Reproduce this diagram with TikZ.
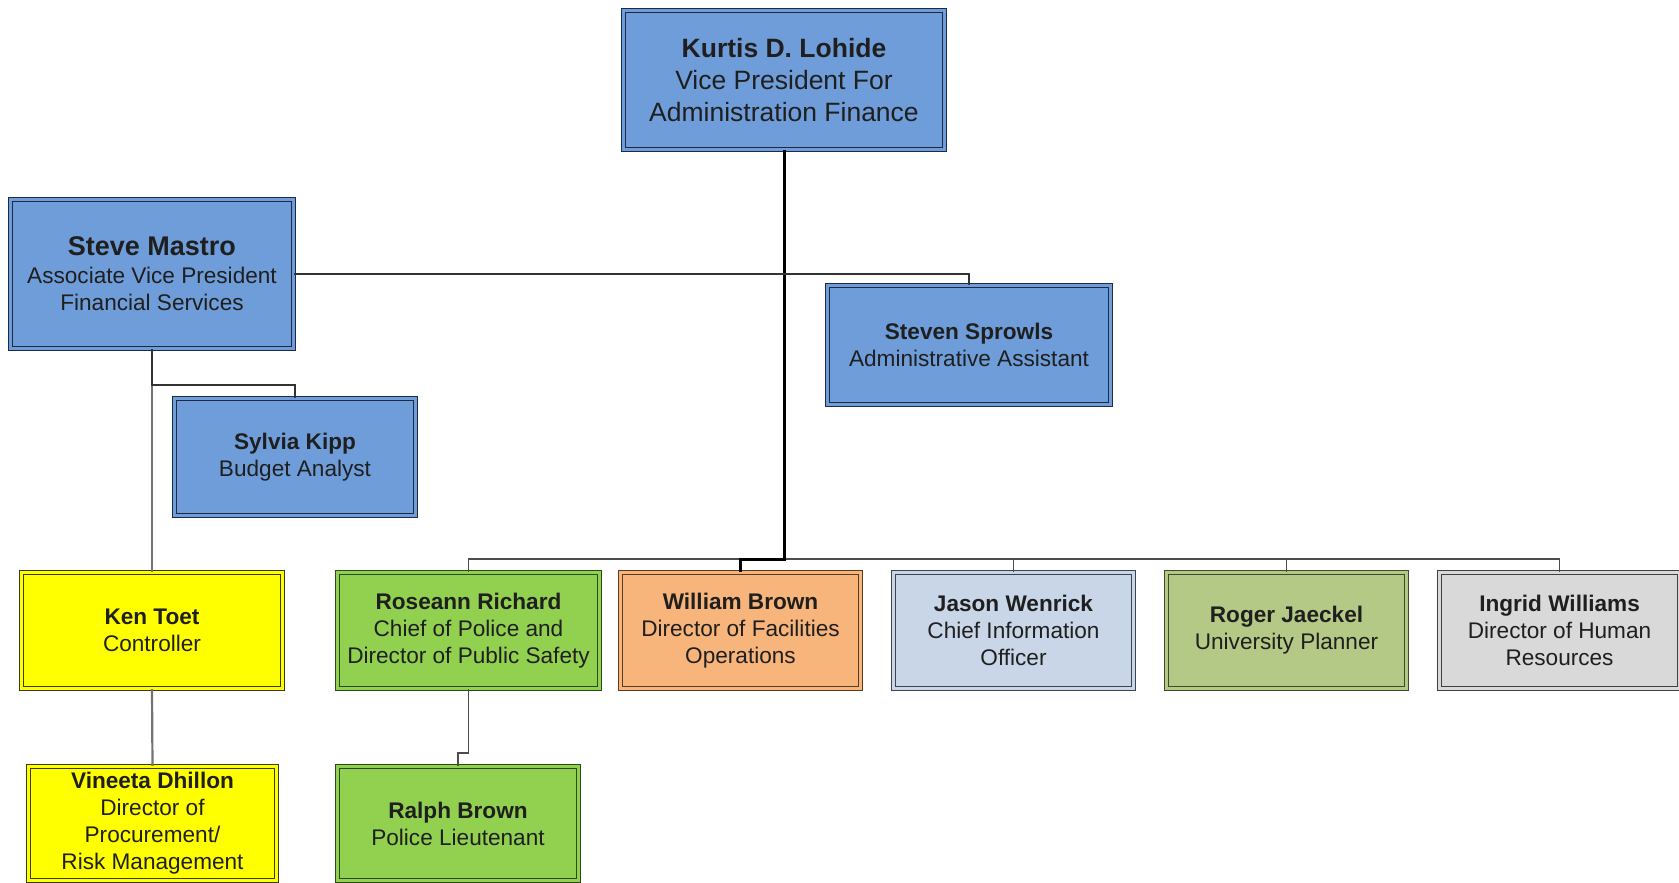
\documentclass[tikz,border=0pt]{standalone}
\usepackage{fontspec}
\setmainfont{Liberation Sans}
\definecolor{bluefill}{HTML}{6F9DD9}
\definecolor{blueedge}{HTML}{1C2A44}
\definecolor{yelfill}{HTML}{FFFF00}
\definecolor{yeledge}{HTML}{3A3A10}
\definecolor{grnfill}{HTML}{92D050}
\definecolor{grnedge}{HTML}{2A4A18}
\definecolor{orgfill}{HTML}{F7B57B}
\definecolor{orgedge}{HTML}{5A3B22}
\definecolor{jasfill}{HTML}{C8D6E8}
\definecolor{jasedge}{HTML}{3C4450}
\definecolor{rogfill}{HTML}{B4C985}
\definecolor{rogedge}{HTML}{3F4A2A}
\definecolor{ingfill}{HTML}{D9D9D9}
\definecolor{ingedge}{HTML}{404040}
\tikzset{
  box/.style 2 args={draw=#1, double=#2, double distance=2.2pt, line width=1.4pt,
    fill=#2, inner sep=0pt, align=center, text=black!88,
    font=\fontsize{22.6}{27}\selectfont},
  bluebox/.style={box={blueedge}{bluefill}},
  yelbox/.style={box={yeledge}{yelfill}},
  grnbox/.style={box={grnedge}{grnfill}},
  orgbox/.style={box={orgedge}{orgfill}},
  jasbox/.style={box={jasedge}{jasfill}},
  rogbox/.style={box={rogedge}{rogfill}},
  ingbox/.style={box={ingedge}{ingfill}},
  mainline/.style={draw=black, line width=3pt},
  busline/.style={draw=black!70, line width=1.8pt},
  darkline/.style={draw=black!80, line width=2pt},
  grayline/.style={draw=black!55, line width=2.2pt},
}
\begin{document}
\begin{tikzpicture}[x=1pt,y=-1pt]
\useasboundingbox (0,0) rectangle (1679,883);
% nodes
\node[bluebox, minimum width=321, minimum height=139, font=\fontsize{26.5}{32}\selectfont] (kurtis) at (784,80)
  {\textbf{Kurtis D. Lohide}\\Vice President For\\Administration Finance};
\node[bluebox, minimum width=283, minimum height=149] (mastro) at (152,274)
  {{\fontsize{27}{30}\selectfont\bfseries Steve Mastro}\\[1pt]Associate Vice President\\Financial Services};
\node[bluebox, minimum width=283, minimum height=119] (sprowls) at (969,345)
  {\textbf{Steven Sprowls}\\Administrative Assistant};
\node[bluebox, minimum width=241, minimum height=117] (sylvia) at (295,457)
  {\textbf{Sylvia Kipp}\\Budget Analyst};
\node[yelbox, minimum width=261, minimum height=116] (ken) at (152,630.5)
  {\textbf{Ken Toet}\\Controller};
\node[yelbox, minimum width=248, minimum height=114] (vineeta) at (152.5,823.5)
  {\textbf{Vineeta Dhillon}\\Director of\\Procurement/\\Risk Management};
\node[grnbox, minimum width=262, minimum height=116] (roseann) at (468.5,630.5)
  {\textbf{Roseann Richard}\\Chief of Police and\\Director of Public Safety};
\node[grnbox, minimum width=241, minimum height=114] (ralph) at (458,823.5)
  {\textbf{Ralph Brown}\\Police Lieutenant};
\node[orgbox, minimum width=240, minimum height=116] (william) at (740.5,630.5)
  {\textbf{William Brown}\\Director of Facilities\\Operations};
\node[jasbox, minimum width=240, minimum height=116] (jason) at (1013.5,630.5)
  {\textbf{Jason Wenrick}\\Chief Information\\Officer};
\node[rogbox, minimum width=240, minimum height=116] (roger) at (1286.5,630.5)
  {\textbf{Roger Jaeckel}\\University Planner};
\node[ingbox, minimum width=240, minimum height=116] (ingrid) at (1559.5,630.5)
  {\textbf{Ingrid Williams}\\Director of Human\\Resources};
% helper coordinates
\coordinate (busy) at (0,559);
\coordinate (sylvy) at (0,385);
\coordinate (jogy) at (0,753);
% connectors
\draw[busline] (roseann.north) -- (roseann.north |- busy) -- (ingrid.north |- busy) -- (ingrid.north);
\draw[busline] (jason.north) -- (jason.north |- busy);
\draw[busline] (roger.north) -- (roger.north |- busy);
\draw[mainline] (kurtis.south) -- (kurtis.south |- busy) -| (william.north);
\draw[darkline] (mastro.east) -| (sprowls.north);
\draw[grayline] (mastro.south) -- (ken.north);
\draw[darkline] (mastro.south) -- (mastro.south |- sylvy) -| (sylvia.north);
\draw[grayline] (ken.south) -- (vineeta.north);
\draw[busline] (roseann.south) -- (roseann.south |- jogy) -| (ralph.north);
\end{tikzpicture}
\end{document}
